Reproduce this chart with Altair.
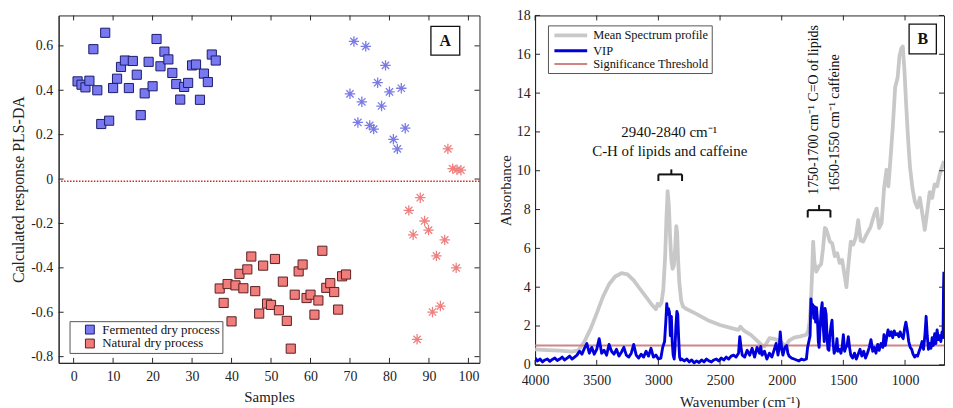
import altair as alt
import pandas as pd

FONT = "Liberation Serif"
AX = "#262626"

# ---------------- Panel A data ----------------
ferm_sq_x = list(range(1, 37))
ferm_sq_y = [0.44, 0.425, 0.413, 0.443, 0.585, 0.40, 0.248, 0.659, 0.263, 0.41, 0.452, 0.505,
             0.534, 0.41, 0.532, 0.47, 0.288, 0.386, 0.528, 0.418, 0.631, 0.508, 0.574, 0.539,
             0.478, 0.428, 0.358, 0.415, 0.433, 0.512, 0.516, 0.357, 0.475, 0.437, 0.561, 0.534]
nat_sq_x = list(range(37, 70))
nat_sq_y = [-0.493, -0.558, -0.473, -0.641, -0.479, -0.427, -0.492, -0.407, -0.349, -0.505,
            -0.606, -0.390, -0.561, -0.567, -0.360, -0.591, -0.462, -0.639, -0.764, -0.521,
            -0.416, -0.385, -0.536, -0.521, -0.611, -0.547, -0.323, -0.490, -0.469, -0.509,
            -0.588, -0.438, -0.430]
ferm_ast_x = [70, 71, 72, 73, 74, 75, 76, 77, 78, 79, 80, 81, 82, 83, 84]
ferm_ast_y = [0.384, 0.620, 0.255, 0.348, 0.598, 0.242, 0.225, 0.434, 0.329, 0.512, 0.393,
              0.179, 0.136, 0.409, 0.229]
nat_ast_x = [84.9, 86, 87, 87.8, 88.9, 89.9, 90.9, 91.9, 92.9, 94, 94.8, 96, 96.9, 97.1, 98.1]
nat_ast_y = [-0.141, -0.251, -0.722, -0.084, -0.189, -0.230, -0.599, -0.346, -0.572, -0.274,
             0.136, 0.047, -0.40, 0.042, 0.040]
threshold_A = -0.01
processes = ["Fermented dry process", "Natural dry process"]
ticksA_x = [0, 10, 20, 30, 40, 50, 60, 70, 80, 90, 100]
ticksA_y = [-0.8, -0.6, -0.4, -0.2, 0, 0.2, 0.4, 0.6]

# ---------------- Panel B data ----------------
mean_w = [4000, 3900, 3800, 3700, 3650, 3600, 3550, 3500, 3450, 3400, 3350, 3300, 3250, 3200,
          3150, 3100, 3050, 3020, 3005, 2990, 2975, 2960, 2945, 2935, 2925, 2915, 2905, 2895,
          2885, 2875, 2865, 2855, 2848, 2840, 2830, 2815, 2800, 2780, 2700, 2600, 2500, 2400,
          2350, 2335, 2320, 2300, 2250, 2200, 2160, 2140, 2120, 2100, 2050, 2000, 1975, 1960,
          1940, 1900, 1850, 1800, 1785, 1775, 1765, 1755, 1745, 1735, 1720, 1700, 1680, 1665,
          1650, 1640, 1625, 1610, 1590, 1570, 1550, 1530, 1510, 1490, 1475, 1460, 1440, 1420,
          1400, 1380, 1360, 1340, 1310, 1280, 1250, 1230, 1210, 1190, 1170, 1150, 1135, 1120,
          1100, 1080, 1060, 1045, 1030, 1018, 1005, 990, 975, 960, 940, 920, 900, 880, 860,
          840, 820, 800, 780, 760, 740, 720, 700, 684]
mean_a = [0.8, 0.76, 0.73, 0.68, 0.75, 1.2, 1.85, 2.65, 3.5, 4.15, 4.55, 4.72, 4.66, 4.35,
          3.92, 3.5, 3.07, 2.87, 3.15, 3.05, 3.2, 3.9, 5.6, 7.5, 8.95, 8.2, 6.6, 5.4,
          4.95, 5.1, 5.9, 7.15, 6.8, 5.4, 4.2, 3.3, 3.0, 2.9, 2.65, 2.3, 2.05, 1.88,
          1.8, 1.97, 1.85, 1.74, 1.54, 1.25, 1.0, 0.95, 1.15, 1.38, 1.32, 1.15, 0.98, 1.05,
          1.25, 1.4, 1.47, 1.55, 1.75, 2.2, 3.0, 4.5, 6.35, 5.3, 4.8, 5.05, 5.2, 6.0,
          7.05, 7.0, 6.7, 6.35, 6.25, 5.6, 5.75, 5.25, 5.4, 4.6, 4.0, 5.1, 6.35, 6.2,
          6.55, 7.45, 6.4, 6.35, 6.75, 7.1, 7.75, 8.05, 7.05, 7.3, 9.1, 10.05, 9.2, 10.45,
          12.2, 14.3, 14.8, 15.9, 16.3, 16.4, 15.2, 13.3, 11.6, 10.2, 9.1, 8.4, 8.1, 8.6, 7.8,
          6.95, 7.9, 8.9, 8.6, 9.3, 9.2, 9.8, 10.2, 10.5]
vip_w = [4000, 3980, 3960, 3940, 3920, 3900, 3880, 3860, 3840, 3820, 3800, 3780, 3760, 3740,
         3720, 3700, 3680, 3660, 3640, 3620, 3600, 3580, 3560, 3540, 3520, 3500, 3480, 3460,
         3440, 3420, 3400, 3380, 3360, 3340, 3320, 3300, 3280, 3260, 3240, 3220, 3200, 3180,
         3160, 3140, 3120, 3100, 3080, 3060, 3040, 3020, 3000, 2980, 2965, 2950, 2940, 2932,
         2925, 2918, 2910, 2903, 2895, 2888, 2880, 2872, 2865, 2858, 2850, 2843, 2836, 2828,
         2820, 2810, 2790, 2770, 2750, 2730, 2710, 2690, 2670, 2650, 2630, 2610, 2590, 2570,
         2550, 2530, 2510, 2490, 2470, 2450, 2430, 2410, 2390, 2370, 2350, 2340, 2330, 2320,
         2300, 2280, 2260, 2240, 2220, 2200, 2180, 2170, 2160, 2140, 2120, 2100, 2080, 2060,
         2045, 2030, 2020, 2012, 2000, 1990, 1975, 1960, 1950, 1940, 1920, 1900, 1880, 1860,
         1840, 1820, 1800, 1790, 1770, 1763, 1755, 1748, 1740, 1733, 1725, 1718, 1710, 1703,
         1697, 1690, 1680, 1672, 1665, 1655, 1648, 1640, 1632, 1625, 1617, 1610, 1600, 1592,
         1584, 1575, 1566, 1558, 1552, 1545, 1530, 1520, 1510, 1500, 1490, 1480, 1470, 1460,
         1450, 1440, 1425, 1410, 1395, 1380, 1365, 1350, 1335, 1320, 1305, 1290, 1276, 1262,
         1250, 1236, 1222, 1210, 1195, 1180, 1171, 1160, 1148, 1138, 1125, 1112, 1100, 1088,
         1075, 1062, 1050, 1040, 1028, 1015, 1003, 993, 982, 970, 958, 946, 935, 922, 910,
         898, 886, 874, 862, 850, 838, 829, 820, 810, 800, 790, 780, 770, 760, 750, 740, 730,
         720, 710, 700, 692, 688, 685]
vip_v = [0.35, 0.2, 0.3, 0.15, 0.25, 0.3, 0.18, 0.28, 0.35, 0.22, 0.3, 0.4, 0.25, 0.35,
         0.45, 0.3, 0.4, 0.5, 0.7, 0.55, 0.85, 1.1, 0.6, 0.9, 0.55, 0.8, 1.35, 0.6,
         0.75, 0.5, 1.05, 0.7, 0.55, 0.8, 0.45, 0.65, 0.9, 0.5, 0.4, 0.6, 1.05, 0.5,
         0.35, 0.55, 0.4, 0.7, 0.45, 0.85, 0.4, 0.5, 0.3, 0.35, 0.9, 1.2, 2.2, 3.15,
         2.6, 2.9, 2.7, 1.5, 2.5, 1.2, 0.5, 0.3, 0.9, 2.0, 2.75, 2.6, 1.4, 0.4,
         0.25, 0.3, 0.2, 0.3, 0.15, 0.25, 0.1, 0.2, 0.12, 0.25, 0.15, 0.3, 0.2, 0.15,
         0.25, 0.3, 0.2, 0.35, 0.25, 0.4, 0.3, 0.45, 0.5, 0.4, 0.6, 1.45, 0.9, 0.5,
         0.4, 0.75, 0.5, 0.85, 0.4, 0.9, 0.6, 0.95, 0.5, 0.7, 0.3, 0.6, 0.4, 0.8,
         1.1, 0.5, 0.9, 1.7, 0.8, 0.5, 0.9, 1.0, 0.6, 0.45, 0.35, 0.3, 0.25, 0.2,
         0.3, 0.25, 0.3, 0.9, 1.5, 3.4, 2.9, 3.1, 2.4, 3.0, 2.2, 2.95, 2.3, 1.2,
         0.9, 1.8, 2.8, 3.2, 2.1, 1.2, 2.9, 2.6, 1.4, 0.8, 0.75, 1.5, 2.0, 2.3,
         1.2, 0.6, 0.75, 0.9, 1.35, 0.7, 0.8, 0.6, 0.9, 1.55, 0.7, 0.9, 1.0, 1.45,
         0.9, 0.5, 0.35, 0.6, 0.3, 0.55, 0.8, 0.45, 0.7, 0.35, 0.6, 0.9, 1.3, 0.7,
         0.9, 0.6, 1.05, 0.75, 1.1, 0.9, 1.55, 1.0, 1.45, 1.8, 1.5, 1.7, 1.4, 1.75,
         1.55, 1.6, 1.45, 1.7, 1.5, 1.35, 1.9, 2.2, 1.8, 1.2, 0.9, 0.8, 0.55, 0.4, 0.5,
         0.45, 0.7, 0.9, 1.2, 0.8, 1.6, 2.5, 1.5, 0.8, 1.1, 0.85, 1.4, 1.0, 1.6, 1.1, 1.8, 1.3,
         1.5, 1.2, 1.7, 1.4, 3.9, 4.8]
threshold_B = 1.0
series = ["Mean Spectrum profile", "VIP", "Significance Threshold"]
ticksB_x = [4000, 3500, 3000, 2500, 2000, 1500, 1000]
ticksB_y = [0, 2, 4, 6, 8, 10, 12, 14, 16, 18]
wn_end = 684

assert len(mean_w) == len(mean_a)
assert len(vip_w) == len(vip_v)

# annotations (data coordinates)
ann_h_text = ["2940-2840 cm\u207b\u00b9", "C-H of lipids and caffeine"]
ann_h_x = [2912, 2908]
ann_h_y = [12.0, 11.0]
ann_v_text = ["1750-1700 cm\u207b\u00b9 C=O of lipids", "1650-1550 cm\u207b\u00b9  caffeine"]
ann_v_x = [1736, 1568]
ann_v_top = [17.5, 16.0]
br_x1 = [3000, 3000, 2808, 2895, 1789, 1789, 1605, 1697]
br_x2 = [2808, 3000, 2808, 2895, 1605, 1789, 1605, 1697]
br_y1 = [9.81, 9.81, 9.81, 9.81, 7.97, 7.97, 7.97, 7.97]
br_y2 = [9.81, 9.47, 9.47, 10.07, 7.97, 7.59, 7.59, 8.24]

# ---------------- Panel A ----------------
WA, HA = 424, 350
xA = alt.Scale(domain=[-3.8, 102.8], nice=False, zero=False)
yA = alt.Scale(domain=[-0.828, 0.737], nice=False, zero=False)
axA_x = alt.Axis(values=ticksA_x, title="Samples", format="d", labelPadding=7, titlePadding=6,
                 labelFlush=False)
axA_y = alt.Axis(values=ticksA_y, labelExpr="'' + datum.value", title="Calculated response PLS-DA",
                 titleFontSize=16, labelPadding=6, titlePadding=4)


def XA(f):
    return alt.X(f, scale=xA, axis=axA_x)


def YA(f):
    return alt.Y(f, scale=yA, axis=axA_y)


def inner_ticks(xvals, yvals, X, Y, W, H, L=5):
    out = []
    dx = pd.DataFrame({"t": xvals})
    for y0, y1 in [(H, H - L), (0, L)]:
        out.append(alt.Chart(dx).mark_rule(color=AX, strokeWidth=1).encode(
            x=X("t:Q"), y=alt.value(y0), y2=alt.value(y1)))
    dy = pd.DataFrame({"t": yvals})
    for x0, x1 in [(0, L), (W, W - L)]:
        out.append(alt.Chart(dy).mark_rule(color=AX, strokeWidth=1).encode(
            y=Y("t:Q"), x=alt.value(x0), x2=alt.value(x1)))
    return out


dfA = pd.DataFrame({
    "sample": ferm_sq_x + nat_sq_x,
    "resp": ferm_sq_y + nat_sq_y,
    "process": [processes[0]] * len(ferm_sq_x) + [processes[1]] * len(nat_sq_x),
})
legA = alt.Legend(title=None, orient="none", legendX=11, legendY=308, padding=2,
                  symbolOffset=12, labelOffset=6, labelFontSize=13, labelFont=FONT,
                  labelColor="#111", strokeColor="#555", fillColor="white", symbolSize=80,
                  symbolStrokeWidth=1, rowPadding=0, symbolType="square")
squares = alt.Chart(dfA).mark_square(size=85, opacity=1, strokeWidth=1).encode(
    x=XA("sample:Q"), y=YA("resp:Q"),
    fill=alt.Fill("process:N", scale=alt.Scale(domain=processes, range=["#7878F0", "#F07C7C"]),
                  legend=legA),
    stroke=alt.Stroke("process:N", scale=alt.Scale(domain=processes, range=["#1c1c6c", "#5a2020"]),
                      legend=legA),
)
AST = "M-1,0L1,0M0,-1L0,1M-0.7,-0.7L0.7,0.7M-0.7,0.7L0.7,-0.7"
ferm_ast = alt.Chart(pd.DataFrame({"sample": ferm_ast_x, "resp": ferm_ast_y})).mark_point(
    shape=AST, size=110, filled=False, color="#7B7BE6", strokeWidth=1.3, opacity=1).encode(
    x=XA("sample:Q"), y=YA("resp:Q"))
nat_ast = alt.Chart(pd.DataFrame({"sample": nat_ast_x, "resp": nat_ast_y})).mark_point(
    shape=AST, size=110, filled=False, color="#EE8080", strokeWidth=1.3, opacity=1).encode(
    x=XA("sample:Q"), y=YA("resp:Q"))
thrA = alt.Chart(pd.DataFrame({"resp": [threshold_A]})).mark_rule(
    color="#cc2a2a", strokeDash=[1.5, 1.5], strokeWidth=1.6).encode(y=YA("resp:Q"))
boxA_df = pd.DataFrame({"x1": [90.5], "x2": [97.8], "y1": [0.558], "y2": [0.688],
                        "xc": [94.15], "yc": [0.623], "t": ["A"]})
boxA = alt.Chart(boxA_df).mark_rect(fill="white", stroke="#111", strokeWidth=1.3).encode(
    x=XA("x1:Q"), x2="x2:Q", y=YA("y1:Q"), y2="y2:Q")
txtA = alt.Chart(boxA_df).mark_text(font=FONT, fontSize=16, fontWeight="bold", color="#111",
                                    baseline="middle", align="center").encode(
    x=XA("xc:Q"), y=YA("yc:Q"), text="t:N")

panelA = alt.layer(thrA, squares, ferm_ast, nat_ast, boxA, txtA,
                   *inner_ticks(ticksA_x, ticksA_y, XA, YA, WA, HA)).properties(width=WA, height=HA)

# ---------------- Panel B ----------------
WB, HB = 412, 352
xB = alt.Scale(domain=[4000, wn_end], nice=False, zero=False)
yB = alt.Scale(domain=[0, 18], nice=False, zero=False)
axB_x = alt.Axis(values=ticksB_x, format="d", title="Wavenumber (cm\u207b\u00b9)",
                 labelPadding=9, titlePadding=7, labelFlush=False)
axB_y = alt.Axis(values=ticksB_y, title="Absorbance", labelPadding=5, titlePadding=3)


def XB(f):
    return alt.X(f, scale=xB, axis=axB_x)


def YB(f):
    return alt.Y(f, scale=yB, axis=axB_y)


dfB = pd.DataFrame({
    "wn": mean_w + vip_w + [4000, wn_end],
    "val": mean_a + vip_v + [threshold_B, threshold_B],
    "series": [series[0]] * len(mean_w) + [series[1]] * len(vip_w) + [series[2]] * 2,
})
dfB["rowid"] = range(len(dfB))
legB = alt.Legend(title=None, orient="none", legendX=493, legendY=10, padding=2.5,
                  symbolType="M-3,0L3,0", symbolSize=121, symbolOffset=13, labelOffset=15,
                  labelFontSize=12.5, labelFont=FONT, labelColor="#111", strokeColor="#555",
                  fillColor="white", rowPadding=0)
colB = alt.Color("series:N", scale=alt.Scale(domain=series, range=["#c8c8c8", "#0000dc", "#d08585"]),
                 legend=legB)
swB = alt.StrokeWidth("series:N", scale=alt.Scale(domain=series, range=[3.8, 2.0, 1.0]), legend=legB)


def line_layer(name):
    return alt.Chart(dfB).transform_filter(alt.datum.series == name).mark_line(
        clip=True, strokeJoin="round").encode(x=XB("wn:Q"), y=YB("val:Q"), color=colB,
                                              strokeWidth=swB, order=alt.Order("rowid:Q"))


grey = line_layer(series[0])
red = line_layer(series[2])
blue = line_layer(series[1])

ann_h = alt.Chart(pd.DataFrame({"x": ann_h_x, "y": ann_h_y, "t": ann_h_text})).mark_text(
    font=FONT, fontSize=15, color="#111", align="center", baseline="middle").encode(
    x=XB("x:Q"), y=YB("y:Q"), text="t:N")
ann_v = alt.Chart(pd.DataFrame({"x": ann_v_x, "y": ann_v_top, "t": ann_v_text})).mark_text(
    font=FONT, fontSize=14, color="#111", align="right", baseline="middle", angle=270).encode(
    x=XB("x:Q"), y=YB("y:Q"), text="t:N")
brackets = alt.Chart(pd.DataFrame({"x1": br_x1, "x2": br_x2, "y1": br_y1, "y2": br_y2})).mark_rule(
    color="#111", strokeWidth=2).encode(x=XB("x1:Q"), x2="x2:Q", y=YB("y1:Q"), y2="y2:Q")
boxB_df = pd.DataFrame({"x1": [967], "x2": [746], "y1": [16.02], "y2": [17.55],
                        "xc": [856], "yc": [16.78], "t": ["B"]})
boxB = alt.Chart(boxB_df).mark_rect(fill="white", stroke="#111", strokeWidth=1.3).encode(
    x=XB("x1:Q"), x2="x2:Q", y=YB("y1:Q"), y2="y2:Q")
txtB = alt.Chart(boxB_df).mark_text(font=FONT, fontSize=16, fontWeight="bold", color="#111",
                                    baseline="middle", align="center").encode(
    x=XB("xc:Q"), y=YB("yc:Q"), text="t:N")

panelB = alt.layer(grey, red, blue, ann_h, ann_v, brackets, boxB, txtB,
                   *inner_ticks(ticksB_x, ticksB_y, XB, YB, WB, HB)).properties(width=WB, height=HB)

chart = alt.hconcat(panelA, panelB, spacing=16).properties(
    padding={"left": 2, "top": -2, "right": 0, "bottom": 0},
    background="white",
).configure_view(stroke=AX, strokeWidth=1).configure_axis(
    domainColor=AX, domainWidth=1, labelFont=FONT, titleFont=FONT, labelColor="#222",
    titleColor="#222", grid=False, ticks=False, labelFontSize=14, titleFontSize=15,
    titleFontWeight="normal",
)

chart.save("out.html", embed_options={"renderer": "svg", "actions": False})
